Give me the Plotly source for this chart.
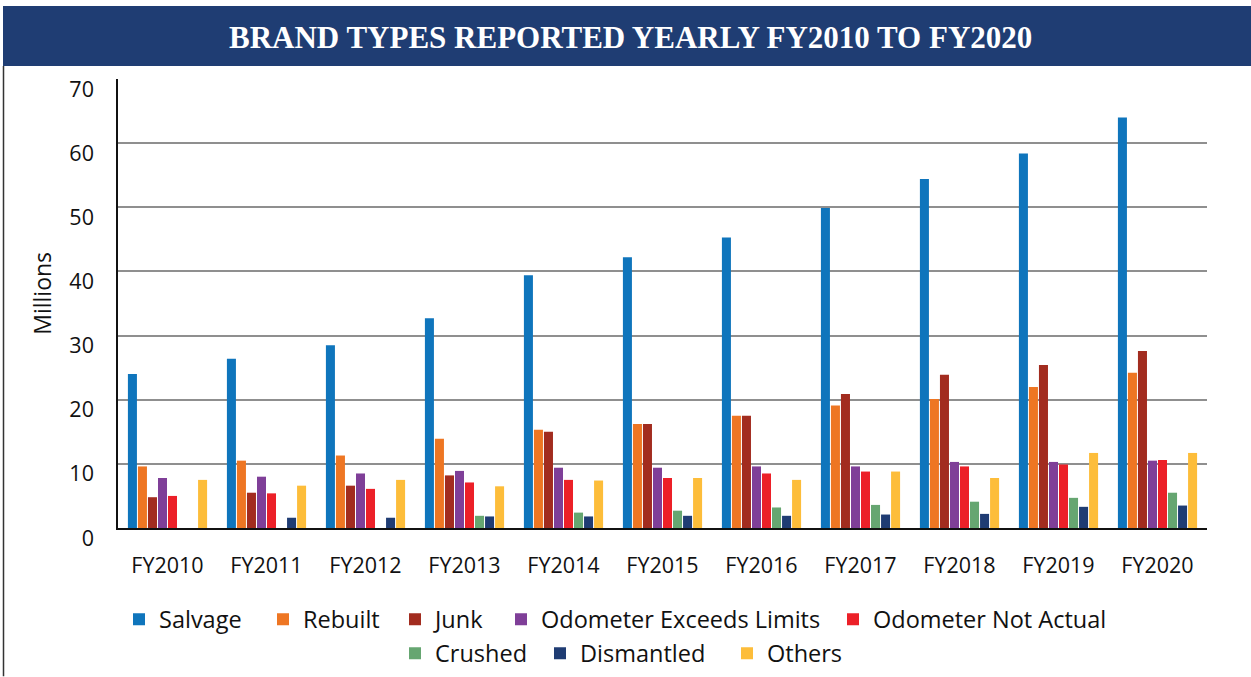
import plotly.graph_objects as go

categories = ["FY2010", "FY2011", "FY2012", "FY2013", "FY2014", "FY2015",
              "FY2016", "FY2017", "FY2018", "FY2019", "FY2020"]

salvage = [24.0, 26.4, 28.5, 32.7, 39.4, 42.2, 45.3, 49.9, 54.4, 58.4, 64.0]
rebuilt = [9.6, 10.5, 11.3, 13.9, 15.3, 16.2, 17.5, 19.1, 20.1, 22.0, 24.2]
junk = [4.8, 5.5, 6.6, 8.2, 15.0, 16.2, 17.5, 20.9, 23.9, 25.4, 27.6]
odo_exceeds = [7.8, 8.0, 8.5, 8.9, 9.4, 9.4, 9.6, 9.6, 10.3, 10.3, 10.5]
odo_not_actual = [5.0, 5.4, 6.1, 7.1, 7.5, 7.8, 8.5, 8.8, 9.6, 9.9, 10.6]
crushed = [0, 0, 0, 1.9, 2.4, 2.7, 3.2, 3.6, 4.1, 4.7, 5.5]
dismantled = [0, 1.6, 1.6, 1.8, 1.8, 1.9, 1.9, 2.1, 2.2, 3.3, 3.5]
others = [7.5, 6.6, 7.5, 6.5, 7.4, 7.8, 7.5, 8.8, 7.8, 11.7, 11.7]

y_ticks = [0, 10, 20, 30, 40, 50, 60, 70]

series_names = ["Salvage", "Rebuilt", "Junk", "Odometer Exceeds Limits",
                "Odometer Not Actual", "Crushed", "Dismantled", "Others"]
series_values = [salvage, rebuilt, junk, odo_exceeds, odo_not_actual,
                 crushed, dismantled, others]
series_colors = ["#0F75BC", "#EE7623", "#A22C1F", "#7F3F98", "#EC2028",
                 "#66A671", "#1F3C73", "#FDBD3A"]

# legend text start positions (px) and row centre (px)
legend_pos = [(159, 620), (303, 620), (435, 620), (541, 620), (873, 620),
              (435, 654), (580, 654), (767, 654)]

W, H = 1251, 677
L, R, T, B = 118, 44, 79, 148.5
pw = W - L - R
ph = H - T - B


def px(x):
    return (x - L) / pw


def py(y):
    return (H - B - y) / ph


fig = go.Figure()
legend_layout = {}
for i, (name, vals, color) in enumerate(zip(series_names, series_values, series_colors)):
    lg = "legend" if i == 0 else f"legend{i + 1}"
    fig.add_trace(go.Bar(name=name, x=categories, y=vals, marker_color=color,
                         marker_line_width=0, legend=lg))
    tx, ty = legend_pos[i]
    legend_layout[lg] = dict(orientation="h", x=px(tx - 40), y=py(ty),
                             xanchor="left", yanchor="middle",
                             font=dict(size=23.5, family="Open Sans", color="#111111"),
                             bgcolor="rgba(0,0,0,0)", borderwidth=0)

fig.update_layout(
    width=W, height=H,
    margin=dict(l=L, r=R, t=T, b=B, autoexpand=False),
    paper_bgcolor="white", plot_bgcolor="white",
    barmode="group", bargap=0.19, bargroupgap=0.1,
    font=dict(family="Open Sans", color="#111111"),
    showlegend=True,
    xaxis=dict(showgrid=False, showline=True, linecolor="#111111", linewidth=2,
               ticks="", tickfont=dict(size=21.5, family="Open Sans", color="#111111"),
               ticklabelstandoff=17, zeroline=False),
    yaxis=dict(range=[0, 70], tickvals=y_ticks, showgrid=True, gridcolor="#8f8f8f",
               gridwidth=1.5, showline=True, linecolor="#111111", linewidth=1.5,
               ticks="", zeroline=False,
               tickfont=dict(size=21.5, family="Open Sans", color="#111111"),
               ticklabelstandoff=18, ticklabelshift=10),
    **legend_layout,
)

fig.add_annotation(text="Millions", xref="paper", yref="paper",
                   x=px(42), y=py(293), xanchor="center", yanchor="middle",
                   textangle=-90, showarrow=False,
                   font=dict(size=23, family="Open Sans", color="#111111"))

fig.add_shape(type="rect", xref="paper", yref="paper",
              x0=px(3), x1=px(1252), y0=py(66), y1=py(6),
              fillcolor="#1F3D73", line_width=0, layer="above")
fig.add_shape(type="line", xref="paper", yref="paper",
              x0=px(3.5), x1=px(3.5), y0=py(66), y1=py(677),
              line=dict(color="#333333", width=1.5))
fig.add_annotation(text="<b>BRAND TYPES REPORTED YEARLY FY2010 TO FY2020</b>",
                   xref="paper", yref="paper", x=px(630), y=py(37),
                   xanchor="center", yanchor="middle", showarrow=False,
                   font=dict(family="Liberation Serif", size=31, color="white"))

fig.write_html("out.html", config={"displayModeBar": False})

with open("out.html", "r", encoding="utf-8") as f:
    html = f.read()
html = html.replace("<head>", "<head><style>html,body{margin:0;padding:0;overflow:hidden;}</style>", 1)
with open("out.html", "w", encoding="utf-8") as f:
    f.write(html)
